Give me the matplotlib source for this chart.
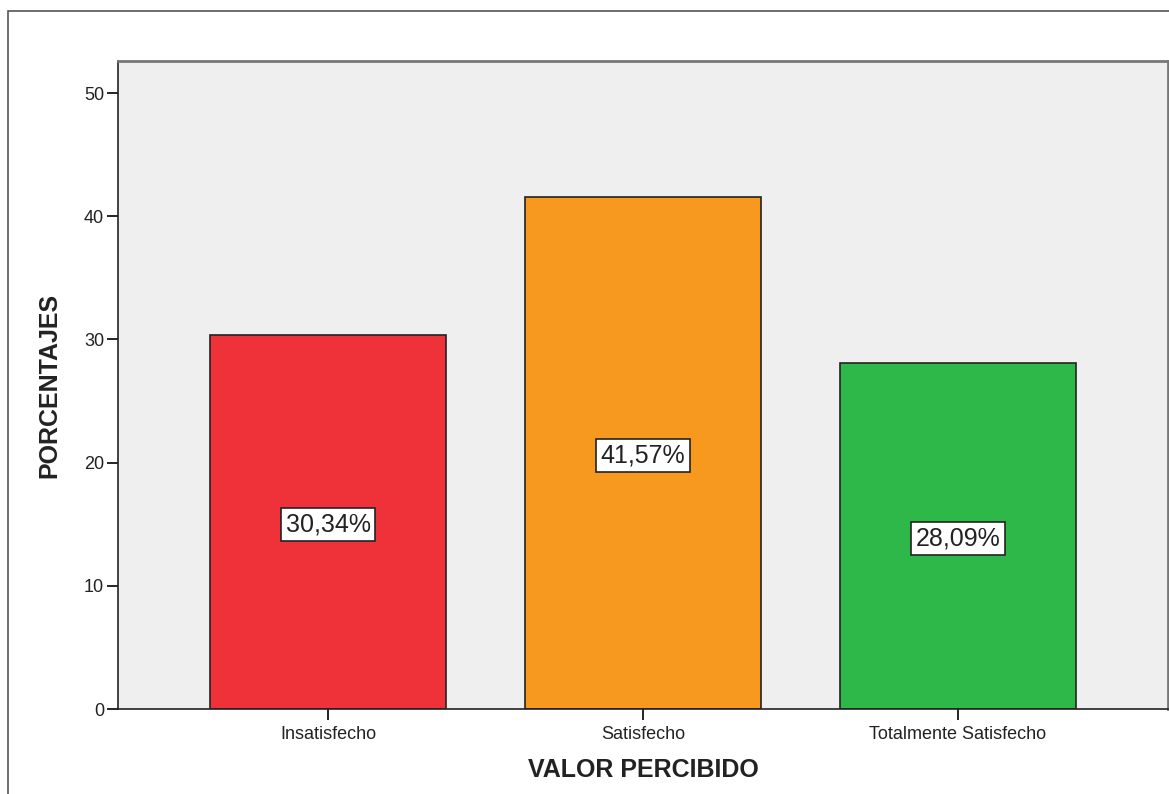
import matplotlib.pyplot as plt
from matplotlib.patches import Rectangle

plt.rcParams['font.family'] = ['Liberation Sans', 'DejaVu Sans']

categorias = ['Insatisfecho', 'Satisfecho', 'Totalmente Satisfecho']
porcentajes = [30.34, 41.57, 28.09]
etiquetas = ['30,34%', '41,57%', '28,09%']
colores = ['#EF323A', '#F7991F', '#2FB84A']

fig = plt.figure(figsize=(11.69, 7.94), dpi=100)
# marco exterior del grafico
fig.patches.append(Rectangle((8 / 1169, -0.01), 1.02, 1 - 10.5 / 794 + 0.01,
                             transform=fig.transFigure, fill=False,
                             edgecolor='#555555', linewidth=1.2))

ax = fig.add_axes([118 / 1169, 1 - 709 / 794, 1050 / 1169, 648 / 794])
ax.set_facecolor('#EFEFEF')

x = range(len(categorias))
ax.bar(x, porcentajes, width=0.75, color=colores, edgecolor='#222222', linewidth=1.2, zorder=2)

for xi, val, txt in zip(x, porcentajes, etiquetas):
    ax.text(xi, val / 2, txt, ha='center', va='center_baseline', fontsize=18, color='#222222',
            bbox=dict(boxstyle='square,pad=0.18', facecolor='white', edgecolor='#222222', linewidth=1.2),
            zorder=3)

ax.set_xlim(-0.667, 2.667)
ax.set_ylim(0, 52.6)
ax.set_yticks([0, 10, 20, 30, 40, 50])
ax.set_xticks(list(x))
ax.set_xticklabels(categorias, fontsize=13, color='#222222')
ax.tick_params(axis='y', labelsize=13, labelcolor='#222222', length=8, width=1.2, pad=2)
ax.tick_params(axis='x', length=8, width=1.2, pad=4)

for side in ['left', 'bottom']:
    ax.spines[side].set_color('#222222')
    ax.spines[side].set_linewidth(1.2)
for side in ['top', 'right']:
    ax.spines[side].set_color('#777777')
    ax.spines[side].set_linewidth(2)

ax.set_xlabel('VALOR PERCIBIDO', fontsize=18, fontweight='bold', color='#222222', labelpad=11)
ax.set_ylabel('PORCENTAJES', fontsize=18, fontweight='bold', color='#222222', labelpad=16)

fig.savefig('out.png', dpi=100)
